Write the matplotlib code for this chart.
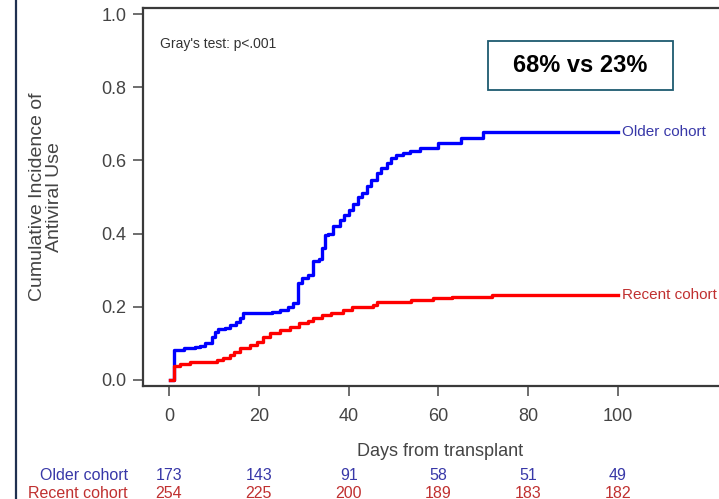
import matplotlib
matplotlib.use("Agg")
import matplotlib.pyplot as plt
from matplotlib.patches import Rectangle
from matplotlib.lines import Line2D

plt.rcParams['font.family'] = ['Liberation Sans', 'DejaVu Sans']

# step curves (days, cumulative incidence)
older_days = [0.3, 1, 3.3, 5.8, 7, 8, 9.6, 10.2, 11, 12.5, 13.6, 15, 15.8, 16.5,
              23, 24.7, 26.5, 27.7, 28.7, 29.7, 31, 32, 33.5, 34, 34.7, 35.5,
              36.5, 38, 39, 40, 41, 42, 43, 44, 45, 46.3, 47.3, 48.5, 49.5,
              50.5, 52, 53.7, 56, 60, 65, 70, 100]
older_cif = [0, 0.082, 0.087, 0.09, 0.093, 0.10, 0.117, 0.13, 0.14, 0.142, 0.15,
             0.158, 0.17, 0.183, 0.186, 0.19, 0.20, 0.21, 0.265, 0.28, 0.287,
             0.325, 0.33, 0.36, 0.396, 0.40, 0.42, 0.437, 0.45, 0.464, 0.48,
             0.50, 0.51, 0.53, 0.546, 0.565, 0.58, 0.593, 0.607, 0.615, 0.62,
             0.626, 0.634, 0.647, 0.66, 0.677, 0.677]

recent_days = [0.3, 1, 2.5, 4.7, 10.7, 12, 13.6, 14.4, 15.8, 18, 19.6, 21, 22.5,
               24.7, 27, 29, 31, 32, 34, 36, 38.8, 40.7, 45.4, 46.3, 54, 58.8,
               63, 72, 100]
recent_cif = [0, 0.038, 0.045, 0.05, 0.055, 0.06, 0.068, 0.077, 0.087, 0.095,
              0.104, 0.117, 0.128, 0.137, 0.145, 0.155, 0.16, 0.17, 0.178, 0.182,
              0.19, 0.2, 0.205, 0.213, 0.218, 0.223, 0.228, 0.232, 0.232]

# numbers at risk
risk_days = [0, 20, 40, 60, 80, 100]
older_risk = [173, 143, 91, 58, 51, 49]
recent_risk = [254, 225, 200, 189, 183, 182]

blue = '#0000ff'
red = '#ff0000'
blue_txt = '#3838a8'
red_txt = '#c03030'
grey = '#444444'

fig = plt.figure(figsize=(7.19, 4.99), dpi=100)
W, H = 719, 499
ax = fig.add_axes([143 / W, 1 - 386 / H, (737 - 143) / W, (386 - 8) / H])

ax.step(older_days, older_cif, where='post', color=blue, lw=2.4, zorder=3)
ax.step(recent_days, recent_cif, where='post', color=red, lw=2.4, zorder=3)

ax.text(100.9, older_cif[-1], 'Older cohort', color=blue_txt, fontsize=11,
        va='center', ha='left', clip_on=False)
ax.text(100.9, recent_cif[-1], 'Recent cohort', color=red_txt, fontsize=11,
        va='center', ha='left', clip_on=False)

ax.set_xlim(-5.8, 126.5)
ax.set_ylim(-0.0164, 1.0164)
ax.set_xticks(risk_days)
ax.set_yticks([0, 0.2, 0.4, 0.6, 0.8, 1.0])
ax.set_yticklabels(['%.1f' % v for v in [0, 0.2, 0.4, 0.6, 0.8, 1.0]])
ax.tick_params(axis='both', direction='out', length=7, width=1.2, colors='#555555',
               labelsize=13, labelcolor=grey)
ax.tick_params(axis='x', pad=9)
ax.tick_params(axis='y', pad=5)

for side in ['left', 'bottom', 'top']:
    ax.spines[side].set_color('#3a3a3a')
    ax.spines[side].set_linewidth(1.6)
ax.spines['right'].set_visible(False)

ax.set_xlabel('Days from transplant', fontsize=13, color=grey, va='center')
ax.xaxis.set_label_coords(0.5, (386 - 452) / 378)
ax.set_ylabel('Cumulative Incidence of\nAntiviral Use', fontsize=14, color=grey,
              va='center', linespacing=0.95)
ax.yaxis.set_label_coords((46 - 143) / 594, 0.5)

ax.text(0.0286, 0.905, "Gray's test: p<.001", transform=ax.transAxes,
        fontsize=10, color='#333333', va='center', ha='left')

# numbers at risk below the axis
ax.text(-0.0253, (386 - 475) / 378, 'Older cohort', transform=ax.transAxes,
        fontsize=11.5, color=blue_txt, ha='right', va='center', clip_on=False)
ax.text(-0.0253, (386 - 493) / 378, 'Recent cohort', transform=ax.transAxes,
        fontsize=11.5, color=red_txt, ha='right', va='center', clip_on=False)
for d, o, r in zip(risk_days, older_risk, recent_risk):
    ax.text(d, (386 - 475) / 378, str(o), transform=ax.get_xaxis_transform(),
            fontsize=11.5, color=blue_txt, ha='center', va='center', clip_on=False)
    ax.text(d, (386 - 493) / 378, str(r), transform=ax.get_xaxis_transform(),
            fontsize=11.5, color=red_txt, ha='center', va='center', clip_on=False)

# summary box
fig.patches.append(Rectangle((488 / W, 1 - 90 / H), 185 / W, 49 / H,
                             transform=fig.transFigure, fill=False,
                             edgecolor='#1e5a70', lw=1.3))
fig.text(580.5 / W, 1 - 65.5 / H, '68% vs 23%', fontsize=17, fontweight='bold',
         color='black', ha='center', va='center')

# slide border on the left
fig.lines.append(Line2D([16 / W, 16 / W], [0, 1], transform=fig.transFigure,
                        color='#1f3050', lw=1.6))

fig.savefig('out.png', dpi=100)
